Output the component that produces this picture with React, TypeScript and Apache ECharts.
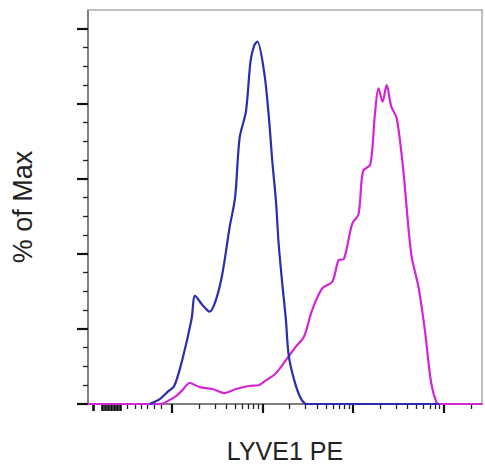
import React, { useEffect, useRef } from "react";
import * as echarts from "echarts";

// x values are display positions in decades (biexponential display, 10^2 at 2 ... 10^5 at 5)
const X_MIN = 1.08;
const X_MAX = 5.42;
const Y_MIN = 0;
const Y_MAX = 105;

// Isotype control (blue)
const BLUE_X = [1.76, 1.87, 1.96, 2.03, 2.12, 2.22, 2.26, 2.34, 2.42, 2.49, 2.56, 2.64, 2.7, 2.75, 2.82, 2.87, 2.91, 2.945, 3.02, 3.07, 3.11, 3.15, 3.18, 3.22, 3.26, 3.29, 3.35, 3.42, 3.49, 4.95];
const BLUE_Y = [0, 1.3, 3.3, 4.8, 11.9, 22.5, 28.8, 26.4, 24.6, 27.8, 34.7, 47.1, 55.0, 70.9, 78.0, 91.3, 95.5, 96.6, 88.5, 77.1, 64.7, 54.2, 42.7, 32.1, 22.4, 13.1, 6.5, 1.7, 0, 0];

// LYVE1 PE stained (magenta)
const MAGENTA_X = [1.08, 1.87, 1.92, 2.05, 2.12, 2.2, 2.31, 2.45, 2.58, 2.71, 2.85, 2.96, 3.04, 3.15, 3.29, 3.37, 3.46, 3.55, 3.66, 3.77, 3.84, 3.9, 3.99, 4.06, 4.11, 4.19, 4.24, 4.28, 4.325, 4.37, 4.42, 4.48, 4.55, 4.64, 4.72, 4.79, 4.86, 4.92, 4.95, 5.42];
const MAGENTA_Y = [0, 0, 0.3, 2.1, 3.7, 5.6, 4.5, 4.0, 2.9, 4.0, 4.8, 5.0, 6.3, 8.2, 12.7, 15.3, 18.0, 25.1, 30.8, 32.5, 38.3, 38.7, 48.0, 50.6, 62.1, 63.8, 77.1, 84.1, 80.6, 85.0, 79.3, 76.2, 63.0, 40.0, 31.2, 19.8, 5.6, 0.3, 0, 0];

// Tick positions
const Y_MAJOR_TICKS = [0, 20, 40, 60, 80, 100];
const Y_MINOR_TICKS = [5, 10, 15, 25, 30, 35, 45, 50, 55, 65, 70, 75, 85, 90, 95];
const X_MAJOR_TICKS = [2, 3, 4, 5];
const X_NEAR_ZERO_TICKS = [1.135, 1.233, 1.266, 1.299, 1.332, 1.365, 1.398, 1.43];
const X_LOW_TICKS = [1.507, 1.595, 1.671, 1.737, 1.814, 1.89];
const DECADE_STEPS = [2, 3, 4, 5, 6, 7, 8, 9];

const X_TITLE = "LYVE1 PE";
const Y_TITLE = "% of Max";

function pairs(xs: number[], ys: number[]) {
  return xs.map((x, i) => [x, ys[i]]);
}

export default function App() {
  const ref = useRef<HTMLDivElement>(null);
  useEffect(() => {
    if (!ref.current) return;
    const chart = echarts.init(ref.current, undefined, { renderer: "svg" });
    const decadeMinor: number[] = [];
    X_MAJOR_TICKS.forEach((d) => {
      DECADE_STEPS.forEach((k) => {
        const v = d + Math.log10(k);
        if (v <= X_MAX) decadeMinor.push(v);
      });
    });
    const xMinor = [...X_LOW_TICKS, ...decadeMinor];
    const font = "'Liberation Sans', Arial, sans-serif";
    const hidden = { show: false };
    const baseX = { type: "value", min: X_MIN, max: X_MAX, gridIndex: 0, splitLine: hidden, axisLabel: hidden };
    const baseY = { type: "value", min: Y_MIN, max: Y_MAX, gridIndex: 0, splitLine: hidden, axisLabel: hidden };
    chart.setOption({
      animation: false,
      backgroundColor: "#ffffff",
      grid: { left: 88, right: 3, top: 10, bottom: 60, containLabel: false },
      xAxis: [
        {
          ...baseX,
          position: "bottom",
          axisLine: { show: true, onZero: false, lineStyle: { color: "#555", width: 1.5 } },
          axisTick: { show: true, customValues: X_MAJOR_TICKS, length: 9, lineStyle: { color: "#111", width: 2.2 } },
          name: X_TITLE,
          nameLocation: "middle",
          nameGap: 34,
          nameTextStyle: { fontFamily: font, fontSize: 25, color: "#222" },
        },
        {
          ...baseX,
          position: "bottom",
          axisLine: { show: false, onZero: false },
          axisTick: { show: true, customValues: xMinor, length: 5, lineStyle: { color: "#222", width: 1.3 } },
        },
        {
          ...baseX,
          position: "bottom",
          axisLine: { show: false, onZero: false },
          axisTick: { show: true, customValues: X_NEAR_ZERO_TICKS, length: 7, lineStyle: { color: "#111", width: 2.6 } },
        },
        {
          ...baseX,
          position: "top",
          axisLine: { show: true, onZero: false, lineStyle: { color: "#aaa", width: 1.5 } },
          axisTick: hidden,
        },
      ],
      yAxis: [
        {
          ...baseY,
          position: "left",
          axisLine: { show: true, onZero: false, lineStyle: { color: "#555", width: 1.5 } },
          axisTick: { show: true, customValues: Y_MAJOR_TICKS, length: 11, lineStyle: { color: "#111", width: 2.2 } },
          name: Y_TITLE,
          nameLocation: "middle",
          nameRotate: 90,
          nameGap: 52,
          nameTextStyle: { fontFamily: font, fontSize: 27, color: "#222" },
        },
        {
          ...baseY,
          position: "left",
          axisLine: { show: false, onZero: false },
          axisTick: { show: true, customValues: Y_MINOR_TICKS, length: 5, lineStyle: { color: "#222", width: 1.3 } },
        },
        {
          ...baseY,
          position: "right",
          axisLine: { show: true, onZero: false, lineStyle: { color: "#aaa", width: 1.5 } },
          axisTick: hidden,
        },
      ],
      series: [
        {
          type: "line",
          name: "LYVE1 PE",
          xAxisIndex: 0,
          yAxisIndex: 0,
          data: pairs(MAGENTA_X, MAGENTA_Y),
          showSymbol: false,
          smooth: 0.3,
          lineStyle: { color: "#d126d6", width: 2.2 },
          z: 3,
        },
        {
          type: "line",
          name: "Isotype",
          xAxisIndex: 0,
          yAxisIndex: 0,
          data: pairs(BLUE_X, BLUE_Y),
          showSymbol: false,
          smooth: 0.3,
          lineStyle: { color: "#2b2cae", width: 2.2 },
          z: 4,
        },
      ],
    });
    return () => chart.dispose();
  }, []);
  return <div ref={ref} style={{ position: "fixed", left: 0, top: 0, width: 485, height: 468 }} />;
}
